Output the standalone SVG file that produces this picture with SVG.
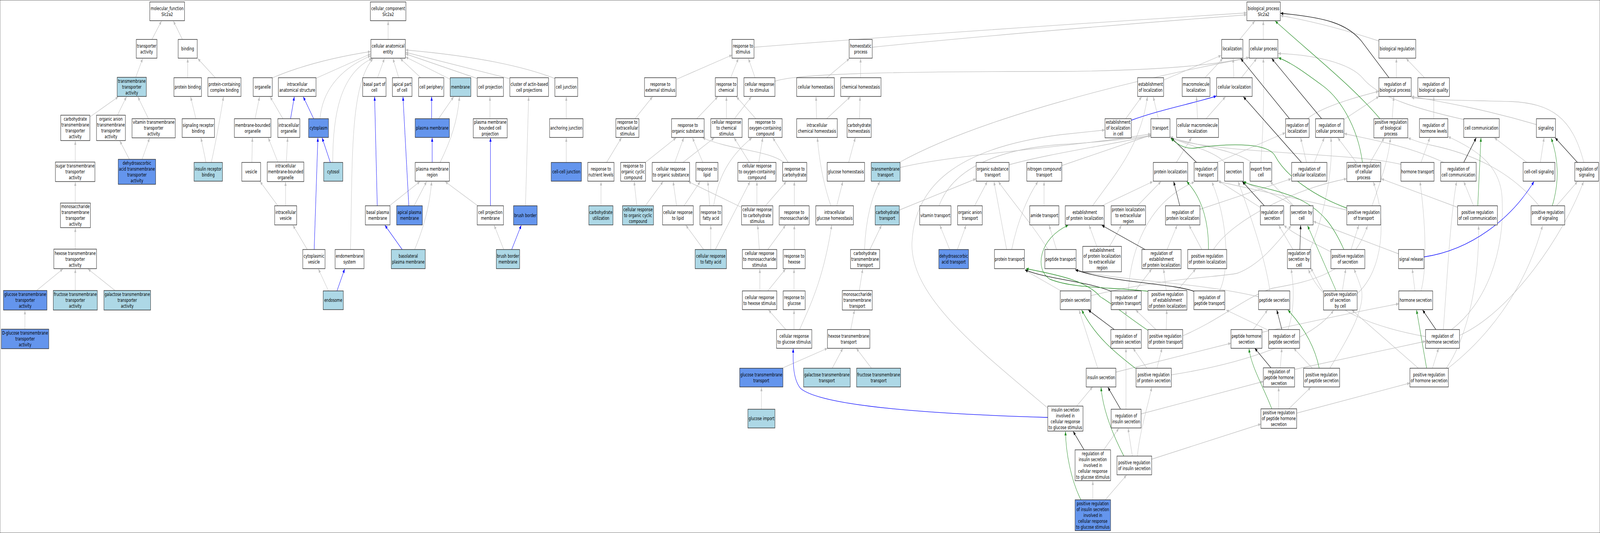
<svg xmlns="http://www.w3.org/2000/svg" width="6035" height="1365" viewBox="0 0 6035 1365" preserveAspectRatio="none" style="width:100vw;height:100vh;display:block">
<style>
rect{stroke:#2a2a2a;stroke-width:1.4}
.w{fill:#ffffff}.lb{fill:#add8e6}.db{fill:#6495ed}
text{font-family:'DejaVu Sans','Liberation Sans',sans-serif;font-size:13px;text-anchor:middle;fill:#000}
.e path{fill:none;stroke-width:1.3}
.g path{stroke:#c0c0c0;marker-end:url(#ag)}
.b path{stroke:#0000ff;marker-end:url(#ab)}
.k path{stroke:#000000;marker-end:url(#ak)}
.gr path{stroke:#228b22;marker-end:url(#agr)}
</style>
<defs>
<marker id="ag" viewBox="0 0 10 8" refX="10" refY="4" markerWidth="10" markerHeight="8" markerUnits="userSpaceOnUse" orient="auto"><path d="M0,0L10,4L0,8z" fill="#c0c0c0"/></marker>
<marker id="ab" viewBox="0 0 10 8" refX="10" refY="4" markerWidth="10" markerHeight="8" markerUnits="userSpaceOnUse" orient="auto"><path d="M0,0L10,4L0,8z" fill="#0000ff"/></marker>
<marker id="ak" viewBox="0 0 10 8" refX="10" refY="4" markerWidth="10" markerHeight="8" markerUnits="userSpaceOnUse" orient="auto"><path d="M0,0L10,4L0,8z" fill="#000000"/></marker>
<marker id="agr" viewBox="0 0 10 8" refX="10" refY="4" markerWidth="10" markerHeight="8" markerUnits="userSpaceOnUse" orient="auto"><path d="M0,0L10,4L0,8z" fill="#228b22"/></marker>
</defs>
<rect x="0" y="0" width="6035" height="1365" fill="#fff" stroke="none"/>
<g id="connectors">
<g class="e g">
<path d="M573,101L609,54"/><path d="M688,101L654,54"/><path d="M512,198L538,150"/><path d="M708,199L708,150"/><path d="M812,199L746,150"/>
<path d="M340,299L446,248"/><path d="M443,295L477,248"/><path d="M560,304L520,248"/><path d="M739,304L719,248"/><path d="M777,416L758,353"/>
<path d="M797,416C812,370 826,320 843,248"/><path d="M488,408L452,361"/><path d="M536,408L564,354"/><path d="M284,415L284,361"/><path d="M284,520L284,466"/>
<path d="M284,638L284,584"/><path d="M138,744L237,689"/><path d="M284,744L284,689"/><path d="M434,744L332,689"/><path d="M94,843L94,795"/>
<path d="M1464,101L1464,54"/><path d="M1025,200Q1180,155 1398,132"/><path d="M1190,201L1398,138"/><path d="M1207,304C1215,240 1270,180 1398,143"/>
<path d="M1255,416C1255,300 1280,190 1403,150"/><path d="M1322,639C1330,400 1320,220 1407,150"/><path d="M1424,199L1450,150"/><path d="M1504,199L1482,150"/>
<path d="M1587,199L1510,150"/><path d="M1698,203L1530,146"/><path d="M1800,201L1530,138"/><path d="M1920,201L1530,134"/><path d="M2093,201Q1900,150 1530,128"/>
<path d="M962,304L979,248"/><path d="M1067,304L1019,248"/><path d="M1048,415L1012,353"/><path d="M1080,415L1085,353"/><path d="M950,416L952,353"/>
<path d="M1048,527L981,465"/><path d="M1077,527L1077,466"/><path d="M1159,639L1105,577"/><path d="M1239,745L1201,689"/><path d="M1654,304L1711,248"/>
<path d="M1660,416C1700,360 1726,310 1733,248"/><path d="M1848,304L1848,248"/><path d="M1469,527L1584,465"/><path d="M1562,527L1609,465"/><path d="M1802,527L1679,465"/>
<path d="M1982,527L1994,248"/><path d="M1564,639C1600,580 1622,520 1628,465"/><path d="M1900,639L1864,577"/><path d="M2136,304L2136,248"/><path d="M2136,416L2136,353"/>
<path d="M2844,121Q3500,85 4702,33"/><path d="M2552,203L2761,141"/><path d="M2756,199L2785,150"/><path d="M2848,199L2823,150"/>
<path d="M2923,208C3000,190 3300,183 4000,183Q4500,180 4711,147"/><path d="M3290,121Q3800,85 4702,38"/>
<path d="M2395,304L2461,248"/><path d="M2628,304L2707,248"/><path d="M2740,304L2740,248"/><path d="M2770,304L2834,248"/><path d="M2851,304L2778,248"/>
<path d="M2288,416L2344,353"/><path d="M2434,416L2550,353"/><path d="M2545,416L2579,353"/><path d="M2576,416L2694,353"/><path d="M2651,416L2612,353"/>
<path d="M2827,416L2769,353"/><path d="M2862,416L2877,353"/><path d="M2973,416L2915,353"/><path d="M2957,416C2900,385 2760,385 2650,353"/>
<path d="M2267,527L2267,465"/><path d="M2402,527L2392,465"/><path d="M2434,527L2501,465"/><path d="M2552,527L2539,465"/><path d="M2580,527L2641,465"/>
<path d="M2677,527L2670,465"/><path d="M2692,527C2710,440 2770,390 2836,353"/><path d="M2797,531L2596,465"/><path d="M2855,527L2855,465"/><path d="M2887,527L2966,465"/>
<path d="M2996,527L2996,465"/><path d="M2654,639L2587,577"/><path d="M2681,639L2681,577"/><path d="M2698,639L2829,465"/><path d="M2864,639L2858,577"/>
<path d="M2896,639L2963,577"/><path d="M2996,639L2996,577"/><path d="M2866,745L2866,689"/><path d="M2896,745L2963,689"/><path d="M2995,745L2995,689"/>
<path d="M2964,844L2899,794"/><path d="M2995,844L2995,794"/><path d="M2950,943L3121,892"/><path d="M2872,1048L2872,992"/><path d="M3016,844C3050,790 3105,720 3137,577"/>
<path d="M3118,199L3204,150"/><path d="M3246,199L3246,150"/><path d="M3080,304L3078,248"/><path d="M3118,304L3207,248"/><path d="M3242,304L3244,248"/>
<path d="M3201,416L3226,353"/><path d="M3134,527C3105,470 3090,410 3083,353"/><path d="M3156,527L3179,465"/>
<path d="M3392,416C3700,300 4300,200 4711,148"/><path d="M3395,429C3600,395 4000,380 4341,343"/><path d="M3392,538L3681,458"/>
<path d="M3261,639C3265,560 3290,500 3319,465"/><path d="M3281,639L3325,577"/><path d="M3542,527C3600,420 3800,380 4000,370Q4200,362 4341,347"/>
<path d="M3676,527L3724,465"/><path d="M3582,639L3545,577"/><path d="M3611,639L3644,577"/><path d="M3806,422C3950,395 4150,375 4341,348"/>
<path d="M3797,639L3749,465"/><path d="M3816,639C3840,560 3880,500 3915,465"/><path d="M3953,639C3900,580 3800,500 3766,465"/><path d="M3938,527L3938,465"/>
<path d="M3985,639L3957,577"/><path d="M4005,424L4341,346"/><path d="M3241,745L3254,689"/><path d="M3209,844L3223,794"/><path d="M3139,943L3179,892"/><path d="M3287,943L3230,892"/>
<path d="M3952,1045C3700,900 3430,760 3440,620C3450,480 3600,380 4000,345L4167,333"/>
<path d="M4676,101L4733,54"/><path d="M4765,101L4765,54"/><path d="M5201,105Q5000,60 4830,40"/><path d="M4389,205L4606,142"/><path d="M4545,199L4612,150"/>
<path d="M4654,199L4651,150"/><path d="M4682,199L4740,150"/><path d="M4246,304L4306,248"/><path d="M4369,304L4350,248"/><path d="M4517,304L4513,248"/>
<path d="M4549,304L4622,248"/><path d="M4931,304Q4990,270 5200,234"/><path d="M5069,306L5201,247"/><path d="M4437,416L4494,353"/><path d="M4590,416L4848,340"/>
<path d="M4619,416C4580,385 4450,365 4414,352"/><path d="M4721,416C4650,380 4480,370 4414,350"/><path d="M4756,416Q4770,280 4765,150"/>
<path d="M4928,416L4906,353"/><path d="M4957,416L4995,353"/><path d="M4121,527C4200,450 4300,380 4328,248"/><path d="M4156,527L4348,465"/>
<path d="M4290,527L4379,465"/><path d="M4526,536L4870,458"/><path d="M4533,639L4485,577"/><path d="M4577,639C4650,560 4900,480 5079,458"/>
<path d="M4402,639L4440,577"/><path d="M4137,631L4108,577"/><path d="M4185,631L4230,577"/><path d="M4753,531L4593,462"/>
<path d="M4877,527C4800,490 4720,480 4691,463"/><path d="M4880,527L4791,465"/><path d="M4877,639L4823,577"/><path d="M5020,645C4950,620 4880,600 4843,577"/>
<path d="M5096,639L5125,577"/><path d="M5275,650L4954,567"/><path d="M5080,538C4900,510 4700,480 4596,465"/><path d="M5175,527C5210,460 5240,400 5244,354"/>
<path d="M5267,199L5267,150"/><path d="M5373,199L5304,150"/><path d="M5251,304L5257,248"/><path d="M5408,304L5408,248"/>
<path d="M5521,306C5350,280 5200,250 5140,200C5090,160 4950,140 4821,137"/><path d="M5795,319C5600,280 5450,262 5324,247"/>
<path d="M5974,416C5930,300 5850,265 5700,260C5550,257 5400,257 5324,250"/><path d="M5116,416L5046,353"/><path d="M5168,416L5221,353"/>
<path d="M5360,416L5393,353"/><path d="M5284,421C5100,390 4600,395 4415,354"/><path d="M5446,416C5300,370 5150,355 5070,342"/>
<path d="M5759,416L5637,353"/><path d="M5810,416L5824,353"/><path d="M5871,527L5950,465"/><path d="M5805,527C5700,440 5560,395 5400,372Q5350,365 5311,353"/>
<path d="M5558,527L5521,465"/><path d="M5498,531L5210,458"/>
<path d="M4002,745L3866,692"/><path d="M4747,760C4500,720 4200,720 4056,690"/><path d="M4281,745L4344,689"/><path d="M4399,744L4389,689"/><path d="M4440,744L4510,689"/>
<path d="M4256,745C4265,650 4320,520 4505,466"/><path d="M4600,745C4640,690 4630,560 4571,466"/><path d="M4115,757C4400,710 4600,710 4666,700C4750,680 4820,620 4870,578"/>
<path d="M4247,844L4247,794"/><path d="M4360,844L4284,794"/><path d="M4399,844L4401,794"/><path d="M4461,860C4600,820 4700,760 4800,738C4950,720 5100,700 5158,578"/>
<path d="M4858,844C4885,790 4880,730 4870,689"/><path d="M4727,844L4781,794"/><path d="M4760,851C4900,830 5100,800 5276,778"/><path d="M4785,846L4625,794"/>
<path d="M4829,942L4835,892"/><path d="M4883,946L5377,874"/><path d="M4950,943L4880,892"/><path d="M5016,943C5090,860 5150,790 5135,740Q5120,710 5107,689"/>
<path d="M4140,942L4070,794"/><path d="M4209,953L4643,879"/><path d="M4325,942L4274,892"/><path d="M4364,942L4383,892"/><path d="M4418,960C4700,930 4950,870 5030,795"/>
<path d="M4247,1048L4247,892"/><path d="M4304,1060L4765,977"/><path d="M4061,1040L4121,991"/><path d="M4271,1168L4255,1097"/><path d="M4290,1168C4300,1100 4330,1040 4344,992"/>
<path d="M4344,1176L4756,1086"/><path d="M4163,1152L4220,1097"/><path d="M4122,1280L4122,1232"/><path d="M4169,1280L4249,1217"/><path d="M4823,1047L4823,992"/>
<path d="M4861,1047L4944,992"/><path d="M4891,1058L5318,981"/><path d="M4790,745C4770,650 4700,520 4670,465"/>
<path d="M5337,745L5327,689"/><path d="M5360,745C5385,680 5375,560 5356,465"/><path d="M5403,943L5426,892"/><path d="M5350,943L5099,794"/>
<path d="M5444,844C5460,700 5470,560 5494,465"/><path d="M5475,844C5600,780 5680,650 5665,500C5655,420 5560,380 5462,350"/>
<path d="M5505,859C5700,800 5900,600 5973,465"/><path d="M5455,943C5520,880 5580,750 5577,578"/><path d="M5462,943C5600,870 5750,750 5818,578"/>
<path d="M4994,750L4944,686"/><path d="M5063,745L5076,689"/><path d="M5119,752C5220,690 5230,560 5180,466"/><path d="M4941,640C4990,560 5030,440 5020,353"/>
<path d="M5377,862C5200,840 5000,800 4935,690"/>
</g>
<g class="e b">
<path d="M1096,304L1110,248"/><path d="M1183,304L1144,248"/><path d="M1185,639L1199,353"/><path d="M1246,416L1215,353"/><path d="M1271,745L1300,689"/>
<path d="M1628,304L1628,248"/><path d="M1630,416L1630,353"/><path d="M1423,527L1413,248"/><path d="M1542,527L1520,248"/><path d="M1850,527L1850,353"/>
<path d="M1517,639L1452,577"/><path d="M1930,639L1966,577"/>
<path d="M4267,308C4380,280 4500,265 4588,246"/>
<path d="M3952,1069C3500,1060 3100,1040 3020,995C2995,975 2990,940 2992,893"/>
<path d="M5371,658C5550,640 5700,560 5786,465"/>
</g>
<g class="e k">
<path d="M5239,199L5135,105C5080,60 5000,45 4830,34"/><path d="M4864,304L4680,150"/><path d="M4985,304L4797,150"/><path d="M4513,416L4418,353"/>
<path d="M4909,416L4690,248"/><path d="M4450,527L4427,465"/><path d="M4319,639L4156,577"/><path d="M4769,527L4686,465"/><path d="M4903,639L4906,577"/>
<path d="M5521,416L5568,353"/><path d="M5950,416L5866,353"/><path d="M4191,746C4100,720 3950,715 3866,691"/><path d="M4503,746C4420,725 4200,725 4056,691"/>
<path d="M4203,844L4105,794"/><path d="M4835,844L4816,794"/><path d="M4794,942L4733,892"/><path d="M4226,1047L4179,992"/><path d="M4089,1152L4048,1105"/>
<path d="M5416,844L5366,794"/>
</g>
<g class="e gr">
<path d="M4558,639C4560,580 4540,510 4476,465"/><path d="M5205,304C5100,220 4950,140 4810,54"/>
<path d="M5139,416C5120,320 5050,250 4990,220C4920,185 4870,160 4822,148"/><path d="M5855,527C5885,460 5875,400 5851,354"/>
<path d="M5574,527L5586,353"/><path d="M5080,533C4950,500 4850,450 4810,400C4780,360 4600,370 4510,379C4470,383 4440,370 4416,354"/>
<path d="M5069,639C5030,580 4990,540 4900,510C4800,480 4730,480 4690,465"/><path d="M4330,846C4250,810 4200,780 4150,760C4100,720 4000,705 3870,688"/>
<path d="M4330,746C4200,735 4050,740 3960,715C3900,690 3920,610 4029,577"/><path d="M4976,943C4960,890 4920,840 4858,794"/>
<path d="M4284,944C4200,900 4130,860 4080,794"/><path d="M4239,1168C4195,1110 4160,1050 4153,992"/><path d="M4077,1280C4040,1230 4020,1160 4019,1105"/>
<path d="M4797,1047C4765,990 4720,940 4711,893"/><path d="M5381,943L5343,794"/><path d="M5040,745L4932,578"/>
</g>
</g>
<g id="n-mf"><rect class="w" x="565" y="5" width="131" height="48"/><text x="630.5" y="26">molecular_function</text><text x="630.5" y="41">Slc2a2</text></g>
<g id="n-ta"><rect class="w" x="514" y="101" width="78" height="48"/><text x="553" y="122">transporter</text><text x="553" y="137">activity</text></g>
<g id="n-bind"><rect class="w" x="672" y="101" width="72" height="48"/><text x="708" y="129.5">binding</text></g>
<g id="n-tmta"><rect class="lb" x="442" y="198" width="110" height="49"/><text x="497" y="212.5">transmembrane</text><text x="497" y="227.5">transporter</text><text x="497" y="242.5">activity</text></g>
<g id="n-pbind"><rect class="w" x="656" y="199" width="104" height="48"/><text x="708" y="227.5">protein binding</text></g>
<g id="n-pcb"><rect class="w" x="784" y="199" width="125" height="48"/><text x="846.5" y="220">protein-containing</text><text x="846.5" y="235">complex binding</text></g>
<g id="n-org"><rect class="w" x="955" y="199" width="72" height="48"/><text x="991" y="227.5">organelle</text></g>
<g id="n-cta"><rect class="w" x="229" y="295" width="110" height="65"/><text x="284" y="309.5">carbohydrate</text><text x="284" y="324.5">transmembrane</text><text x="284" y="339.5">transporter</text><text x="284" y="354.5">activity</text></g>
<g id="n-oata"><rect class="w" x="364" y="295" width="109" height="65"/><text x="418.5" y="309.5">organic anion</text><text x="418.5" y="324.5">transmembrane</text><text x="418.5" y="339.5">transporter</text><text x="418.5" y="354.5">activity</text></g>
<g id="n-vta"><rect class="w" x="498" y="304" width="163" height="49"/><text x="579.5" y="317.5">vitamin transmembrane</text><text x="579.5" y="332.5">transporter</text><text x="579.5" y="347.5">activity</text></g>
<g id="n-srb"><rect class="w" x="687" y="304" width="122" height="48"/><text x="748" y="325">signaling receptor</text><text x="748" y="340">binding</text></g>
<g id="n-mbo"><rect class="w" x="884" y="304" width="138" height="48"/><text x="953" y="325">membrane-bounded</text><text x="953" y="340">organelle</text></g>
<g id="n-sta"><rect class="w" x="209" y="415" width="149" height="50"/><text x="283.5" y="429.5">sugar transmembrane</text><text x="283.5" y="444.5">transporter</text><text x="283.5" y="459.5">activity</text></g>
<g id="n-data"><rect class="db" x="446" y="408" width="141" height="64"/><text x="516.5" y="422">dehydroascorbic</text><text x="516.5" y="437">acid transmembrane</text><text x="516.5" y="452">transporter</text><text x="516.5" y="467">activity</text></g>
<g id="n-irb"><rect class="lb" x="732" y="416" width="107" height="48"/><text x="785.5" y="437">insulin receptor</text><text x="785.5" y="452">binding</text></g>
<g id="n-ves"><rect class="w" x="912" y="416" width="71" height="48"/><text x="947.5" y="444.5">vesicle</text></g>
<g id="n-msta"><rect class="w" x="228" y="520" width="113" height="63"/><text x="284.5" y="533.5">monosaccharide</text><text x="284.5" y="548.5">transmembrane</text><text x="284.5" y="563.5">transporter</text><text x="284.5" y="578.5">activity</text></g>
<g id="n-hta"><rect class="w" x="203" y="638" width="161" height="50"/><text x="283.5" y="653">hexose transmembrane</text><text x="283.5" y="668">transporter</text><text x="283.5" y="683">activity</text></g>
<g id="n-gta"><rect class="db" x="13" y="744" width="164" height="50"/><text x="95" y="758.5">glucose transmembrane</text><text x="95" y="773.5">transporter</text><text x="95" y="788.5">activity</text></g>
<g id="n-fta"><rect class="lb" x="201" y="744" width="166" height="50"/><text x="284" y="758.5">fructose transmembrane</text><text x="284" y="773.5">transporter</text><text x="284" y="788.5">activity</text></g>
<g id="n-gala"><rect class="lb" x="392" y="744" width="176" height="50"/><text x="480" y="758.5">galactose transmembrane</text><text x="480" y="773.5">transporter</text><text x="480" y="788.5">activity</text></g>
<g id="n-dgta"><rect class="db" x="5" y="843" width="179" height="50"/><text x="94.5" y="857.5">D-glucose transmembrane</text><text x="94.5" y="872.5">transporter</text><text x="94.5" y="887.5">activity</text></g>
<g id="n-cc"><rect class="w" x="1397" y="5" width="134" height="48"/><text x="1464" y="26">cellular_component</text><text x="1464" y="41">Slc2a2</text></g>
<g id="n-cae"><rect class="w" x="1399" y="101" width="130" height="48"/><text x="1464" y="122">cellular anatomical</text><text x="1464" y="137">entity</text></g>
<g id="n-ias"><rect class="w" x="1050" y="199" width="142" height="48"/><text x="1121" y="220">intracellular</text><text x="1121" y="235">anatomical structure</text></g>
<g id="n-bpc"><rect class="w" x="1368" y="199" width="88" height="48"/><text x="1412" y="220">basal part of</text><text x="1412" y="235">cell</text></g>
<g id="n-apc"><rect class="w" x="1480" y="199" width="74" height="48"/><text x="1517" y="220">apical part</text><text x="1517" y="235">of cell</text></g>
<g id="n-cper"><rect class="w" x="1579" y="199" width="95" height="48"/><text x="1626.5" y="227.5">cell periphery</text></g>
<g id="n-mem"><rect class="lb" x="1698" y="199" width="78" height="48"/><text x="1737" y="227.5">membrane</text></g>
<g id="n-cproj"><rect class="w" x="1800" y="199" width="99" height="48"/><text x="1849.5" y="227.5">cell projection</text></g>
<g id="n-cabcp"><rect class="w" x="1923" y="199" width="146" height="48"/><text x="1996" y="220">cluster of actin-based</text><text x="1996" y="235">cell projections</text></g>
<g id="n-cj"><rect class="w" x="2093" y="199" width="86" height="48"/><text x="2136" y="227.5">cell junction</text></g>
<g id="n-io"><rect class="w" x="1048" y="304" width="83" height="48"/><text x="1089.5" y="325">intracellular</text><text x="1089.5" y="340">organelle</text></g>
<g id="n-cyto"><rect class="db" x="1164" y="304" width="75" height="48"/><text x="1201.5" y="332.5">cytoplasm</text></g>
<g id="n-pm"><rect class="db" x="1566" y="304" width="129" height="48"/><text x="1630.5" y="332.5">plasma membrane</text></g>
<g id="n-pmbcp"><rect class="w" x="1785" y="304" width="128" height="49"/><text x="1849" y="317.5">plasma membrane</text><text x="1849" y="332.5">bounded cell</text><text x="1849" y="347.5">projection</text></g>
<g id="n-aj"><rect class="w" x="2073" y="304" width="126" height="48"/><text x="2136" y="332.5">anchoring junction</text></g>
<g id="n-imbo"><rect class="w" x="1008" y="415" width="138" height="50"/><text x="1077" y="429.5">intracellular</text><text x="1077" y="444.5">membrane-bounded</text><text x="1077" y="459.5">organelle</text></g>
<g id="n-cytosol"><rect class="lb" x="1221" y="416" width="72" height="48"/><text x="1257" y="444.5">cytosol</text></g>
<g id="n-pmr"><rect class="w" x="1566" y="416" width="129" height="48"/><text x="1630.5" y="437">plasma membrane</text><text x="1630.5" y="452">region</text></g>
<g id="n-ccj"><rect class="db" x="2079" y="416" width="114" height="48"/><text x="2136" y="444.5">cell-cell junction</text></g>
<g id="n-iv"><rect class="w" x="1036" y="527" width="83" height="49"/><text x="1077.5" y="548.5">intracellular</text><text x="1077.5" y="563.5">vesicle</text></g>
<g id="n-bpm"><rect class="w" x="1378" y="527" width="93" height="49"/><text x="1424.5" y="548.5">basal plasma</text><text x="1424.5" y="563.5">membrane</text></g>
<g id="n-apm"><rect class="db" x="1496" y="527" width="97" height="49"/><text x="1544.5" y="548.5">apical plasma</text><text x="1544.5" y="563.5">membrane</text></g>
<g id="n-cpm"><rect class="w" x="1800" y="527" width="99" height="49"/><text x="1849.5" y="548.5">cell projection</text><text x="1849.5" y="563.5">membrane</text></g>
<g id="n-bb"><rect class="db" x="1937" y="527" width="89" height="49"/><text x="1981.5" y="556">brush border</text></g>
<g id="n-cv"><rect class="w" x="1142" y="639" width="84" height="49"/><text x="1184" y="660.5">cytoplasmic</text><text x="1184" y="675.5">vesicle</text></g>
<g id="n-ems"><rect class="w" x="1264" y="639" width="109" height="49"/><text x="1318.5" y="660.5">endomembrane</text><text x="1318.5" y="675.5">system</text></g>
<g id="n-blpm"><rect class="lb" x="1476" y="639" width="128" height="49"/><text x="1540" y="660.5">basolateral</text><text x="1540" y="675.5">plasma membrane</text></g>
<g id="n-bbm"><rect class="lb" x="1872" y="639" width="88" height="49"/><text x="1916" y="660.5">brush border</text><text x="1916" y="675.5">membrane</text></g>
<g id="n-endo"><rect class="lb" x="1219" y="745" width="76" height="48"/><text x="1257" y="773.5">endosome</text></g>
<g id="n-rs"><rect class="w" x="2761" y="101" width="83" height="48"/><text x="2802.5" y="122">response to</text><text x="2802.5" y="137">stimulus</text></g>
<g id="n-rext"><rect class="w" x="2431" y="199" width="119" height="48"/><text x="2490.5" y="220">response to</text><text x="2490.5" y="235">external stimulus</text></g>
<g id="n-rchem"><rect class="w" x="2698" y="199" width="83" height="48"/><text x="2739.5" y="220">response to</text><text x="2739.5" y="235">chemical</text></g>
<g id="n-crs"><rect class="w" x="2806" y="199" width="117" height="48"/><text x="2864.5" y="220">cellular response</text><text x="2864.5" y="235">to stimulus</text></g>
<g id="n-rexc"><rect class="w" x="2323" y="304" width="87" height="48"/><text x="2366.5" y="317.5">response to</text><text x="2366.5" y="332.5">extracellular</text><text x="2366.5" y="347.5">stimulus</text></g>
<g id="n-ros"><rect class="w" x="2533" y="304" width="123" height="48"/><text x="2594.5" y="325">response to</text><text x="2594.5" y="340">organic substance</text></g>
<g id="n-crcs"><rect class="w" x="2681" y="304" width="118" height="48"/><text x="2740" y="317.5">cellular response</text><text x="2740" y="332.5">to chemical</text><text x="2740" y="347.5">stimulus</text></g>
<g id="n-rocc"><rect class="w" x="2823" y="304" width="127" height="48"/><text x="2886.5" y="317.5">response to</text><text x="2886.5" y="332.5">oxygen-containing</text><text x="2886.5" y="347.5">compound</text></g>
<g id="n-rnl"><rect class="w" x="2217" y="416" width="99" height="48"/><text x="2266.5" y="437">response to</text><text x="2266.5" y="452">nutrient levels</text></g>
<g id="n-rocyc"><rect class="w" x="2341" y="416" width="94" height="48"/><text x="2388" y="429.5">response to</text><text x="2388" y="444.5">organic cyclic</text><text x="2388" y="459.5">compound</text></g>
<g id="n-cros"><rect class="w" x="2460" y="416" width="141" height="48"/><text x="2530.5" y="437">cellular response</text><text x="2530.5" y="452">to organic substance</text></g>
<g id="n-rlip"><rect class="w" x="2625" y="416" width="83" height="48"/><text x="2666.5" y="437">response to</text><text x="2666.5" y="452">lipid</text></g>
<g id="n-croc"><rect class="w" x="2783" y="416" width="144" height="48"/><text x="2855" y="429.5">cellular response</text><text x="2855" y="444.5">to oxygen-containing</text><text x="2855" y="459.5">compound</text></g>
<g id="n-rcarb"><rect class="w" x="2952" y="416" width="91" height="48"/><text x="2997.5" y="437">response to</text><text x="2997.5" y="452">carbohydrate</text></g>
<g id="n-cu"><rect class="lb" x="2221" y="527" width="91" height="49"/><text x="2266.5" y="548.5">carbohydrate</text><text x="2266.5" y="563.5">utilization</text></g>
<g id="n-crocc"><rect class="lb" x="2348" y="527" width="117" height="49"/><text x="2406.5" y="541">cellular response</text><text x="2406.5" y="556">to organic cyclic</text><text x="2406.5" y="571">compound</text></g>
<g id="n-crl"><rect class="w" x="2499" y="527" width="116" height="49"/><text x="2557" y="548.5">cellular response</text><text x="2557" y="563.5">to lipid</text></g>
<g id="n-rfa"><rect class="w" x="2640" y="527" width="83" height="49"/><text x="2681.5" y="548.5">response to</text><text x="2681.5" y="563.5">fatty acid</text></g>
<g id="n-crcarb"><rect class="w" x="2797" y="527" width="118" height="49"/><text x="2856" y="541">cellular response</text><text x="2856" y="556">to carbohydrate</text><text x="2856" y="571">stimulus</text></g>
<g id="n-rmono"><rect class="w" x="2939" y="527" width="113" height="49"/><text x="2995.5" y="548.5">response to</text><text x="2995.5" y="563.5">monosaccharide</text></g>
<g id="n-crfa"><rect class="lb" x="2622" y="639" width="118" height="49"/><text x="2681" y="660.5">cellular response</text><text x="2681" y="675.5">to fatty acid</text></g>
<g id="n-crms"><rect class="w" x="2800" y="639" width="130" height="49"/><text x="2865" y="653">cellular response</text><text x="2865" y="668">to monosaccharide</text><text x="2865" y="683">stimulus</text></g>
<g id="n-rhex"><rect class="w" x="2954" y="639" width="83" height="49"/><text x="2995.5" y="660.5">response to</text><text x="2995.5" y="675.5">hexose</text></g>
<g id="n-crhs"><rect class="w" x="2800" y="745" width="130" height="48"/><text x="2865" y="766">cellular response</text><text x="2865" y="781">to hexose stimulus</text></g>
<g id="n-rglu"><rect class="w" x="2954" y="745" width="83" height="48"/><text x="2995.5" y="766">response to</text><text x="2995.5" y="781">glucose</text></g>
<g id="n-crgs"><rect class="w" x="2929" y="844" width="133" height="48"/><text x="2995.5" y="865">cellular response</text><text x="2995.5" y="880">to glucose stimulus</text></g>
<g id="n-gtt"><rect class="db" x="2790" y="943" width="163" height="48"/><text x="2871.5" y="964">glucose transmembrane</text><text x="2871.5" y="979">transport</text></g>
<g id="n-gimp"><rect class="lb" x="2821" y="1048" width="102" height="48"/><text x="2872" y="1076.5">glucose import</text></g>
<g id="n-hp"><rect class="w" x="3203" y="101" width="87" height="48"/><text x="3246.5" y="122">homeostatic</text><text x="3246.5" y="137">process</text></g>
<g id="n-ch"><rect class="w" x="3005" y="199" width="142" height="48"/><text x="3076" y="227.5">cellular homeostasis</text></g>
<g id="n-chem"><rect class="w" x="3171" y="199" width="152" height="48"/><text x="3247" y="227.5">chemical homeostasis</text></g>
<g id="n-ich"><rect class="w" x="3005" y="304" width="153" height="48"/><text x="3081.5" y="325">intracellular</text><text x="3081.5" y="340">chemical homeostasis</text></g>
<g id="n-carbh"><rect class="w" x="3195" y="304" width="91" height="48"/><text x="3240.5" y="325">carbohydrate</text><text x="3240.5" y="340">homeostasis</text></g>
<g id="n-gh"><rect class="w" x="3120" y="416" width="141" height="48"/><text x="3190.5" y="444.5">glucose homeostasis</text></g>
<g id="n-tmt"><rect class="lb" x="3286" y="416" width="109" height="48"/><text x="3340.5" y="437">transmembrane</text><text x="3340.5" y="452">transport</text></g>
<g id="n-ost"><rect class="w" x="3682" y="416" width="124" height="48"/><text x="3744" y="437">organic substance</text><text x="3744" y="452">transport</text></g>
<g id="n-nct"><rect class="w" x="3873" y="416" width="132" height="48"/><text x="3939" y="437">nitrogen compound</text><text x="3939" y="452">transport</text></g>
<g id="n-igh"><rect class="w" x="3077" y="527" width="142" height="49"/><text x="3148" y="548.5">intracellular</text><text x="3148" y="563.5">glucose homeostasis</text></g>
<g id="n-ct"><rect class="lb" x="3301" y="527" width="91" height="49"/><text x="3346.5" y="548.5">carbohydrate</text><text x="3346.5" y="563.5">transport</text></g>
<g id="n-vt"><rect class="w" x="3469" y="527" width="118" height="49"/><text x="3528" y="556">vitamin transport</text></g>
<g id="n-oat"><rect class="w" x="3612" y="527" width="93" height="49"/><text x="3658.5" y="548.5">organic anion</text><text x="3658.5" y="563.5">transport</text></g>
<g id="n-amt"><rect class="w" x="3884" y="527" width="110" height="49"/><text x="3939" y="556">amide transport</text></g>
<g id="n-ctt"><rect class="w" x="3208" y="639" width="110" height="49"/><text x="3263" y="653">carbohydrate</text><text x="3263" y="668">transmembrane</text><text x="3263" y="683">transport</text></g>
<g id="n-dat"><rect class="db" x="3541" y="639" width="112" height="49"/><text x="3597" y="660.5">dehydroascorbic</text><text x="3597" y="675.5">acid transport</text></g>
<g id="n-pt"><rect class="w" x="3751" y="639" width="113" height="49"/><text x="3807.5" y="668">protein transport</text></g>
<g id="n-pept"><rect class="w" x="3941" y="639" width="118" height="49"/><text x="4000" y="668">peptide transport</text></g>
<g id="n-mtt"><rect class="w" x="3177" y="744" width="113" height="50"/><text x="3233.5" y="758.5">monosaccharide</text><text x="3233.5" y="773.5">transmembrane</text><text x="3233.5" y="788.5">transport</text></g>
<g id="n-htt"><rect class="w" x="3121" y="844" width="160" height="48"/><text x="3201" y="865">hexose transmembrane</text><text x="3201" y="880">transport</text></g>
<g id="n-galt"><rect class="lb" x="3031" y="943" width="176" height="48"/><text x="3119" y="964">galactose transmembrane</text><text x="3119" y="979">transport</text></g>
<g id="n-frut"><rect class="lb" x="3231" y="943" width="166" height="48"/><text x="3314" y="964">fructose transmembrane</text><text x="3314" y="979">transport</text></g>
<g id="n-isii"><rect class="w" x="3952" y="1040" width="133" height="64"/><text x="4018.5" y="1054">insulin secretion</text><text x="4018.5" y="1069">involved in</text><text x="4018.5" y="1084">cellular response</text><text x="4018.5" y="1099">to glucose stimulus</text></g>
<g id="n-bp"><rect class="w" x="4703" y="5" width="126" height="48"/><text x="4766" y="26">biological_process</text><text x="4766" y="41">Slc2a2</text></g>
<g id="n-loc"><rect class="w" x="4608" y="101" width="80" height="48"/><text x="4648" y="129.5">localization</text></g>
<g id="n-cp"><rect class="w" x="4712" y="101" width="108" height="48"/><text x="4766" y="129.5">cellular process</text></g>
<g id="n-breg"><rect class="w" x="5201" y="101" width="139" height="48"/><text x="5270.5" y="129.5">biological regulation</text></g>
<g id="n-eol"><rect class="w" x="4291" y="199" width="98" height="48"/><text x="4340" y="220">establishment</text><text x="4340" y="235">of localization</text></g>
<g id="n-ml"><rect class="w" x="4459" y="199" width="105" height="48"/><text x="4511.5" y="220">macromolecule</text><text x="4511.5" y="235">localization</text></g>
<g id="n-cl"><rect class="w" x="4589" y="199" width="134" height="48"/><text x="4656" y="227.5">cellular localization</text></g>
<g id="n-rbp"><rect class="w" x="5201" y="199" width="122" height="48"/><text x="5262" y="220">regulation of</text><text x="5262" y="235">biological process</text></g>
<g id="n-rbq"><rect class="w" x="5348" y="199" width="119" height="48"/><text x="5407.5" y="220">regulation of</text><text x="5407.5" y="235">biological quality</text></g>
<g id="n-eolic"><rect class="w" x="4168" y="304" width="99" height="49"/><text x="4217.5" y="317.5">establishment</text><text x="4217.5" y="332.5">of localization</text><text x="4217.5" y="347.5">in cell</text></g>
<g id="n-tr"><rect class="w" x="4341" y="304" width="72" height="48"/><text x="4377" y="332.5">transport</text></g>
<g id="n-cml"><rect class="w" x="4438" y="304" width="158" height="48"/><text x="4517" y="325">cellular macromolecule</text><text x="4517" y="340">localization</text></g>
<g id="n-rol"><rect class="w" x="4849" y="304" width="89" height="48"/><text x="4893.5" y="325">regulation of</text><text x="4893.5" y="340">localization</text></g>
<g id="n-rcp"><rect class="w" x="4962" y="304" width="107" height="48"/><text x="5015.5" y="325">regulation of</text><text x="5015.5" y="340">cellular process</text></g>
<g id="n-prbp"><rect class="w" x="5182" y="304" width="128" height="49"/><text x="5246" y="317.5">positive regulation</text><text x="5246" y="332.5">of biological</text><text x="5246" y="347.5">process</text></g>
<g id="n-rhl"><rect class="w" x="5354" y="304" width="107" height="48"/><text x="5407.5" y="325">regulation of</text><text x="5407.5" y="340">hormone levels</text></g>
<g id="n-ccom"><rect class="w" x="5521" y="304" width="134" height="48"/><text x="5588" y="332.5">cell communication</text></g>
<g id="n-sig"><rect class="w" x="5795" y="304" width="72" height="48"/><text x="5831" y="332.5">signaling</text></g>
<g id="n-pl"><rect class="w" x="4350" y="416" width="130" height="48"/><text x="4415" y="444.5">protein localization</text></g>
<g id="n-rtr"><rect class="w" x="4504" y="416" width="89" height="48"/><text x="4548.5" y="437">regulation of</text><text x="4548.5" y="452">transport</text></g>
<g id="n-sec"><rect class="w" x="4619" y="416" width="71" height="48"/><text x="4654.5" y="444.5">secretion</text></g>
<g id="n-efc"><rect class="w" x="4715" y="416" width="82" height="48"/><text x="4756" y="437">export from</text><text x="4756" y="452">cell</text></g>
<g id="n-rcl"><rect class="w" x="4872" y="416" width="133" height="48"/><text x="4938.5" y="437">regulation of</text><text x="4938.5" y="452">cellular localization</text></g>
<g id="n-prcp"><rect class="w" x="5080" y="416" width="128" height="49"/><text x="5144" y="429.5">positive regulation</text><text x="5144" y="444.5">of cellular</text><text x="5144" y="459.5">process</text></g>
<g id="n-ht"><rect class="w" x="5284" y="416" width="125" height="48"/><text x="5346.5" y="444.5">hormone transport</text></g>
<g id="n-rcc"><rect class="w" x="5434" y="416" width="134" height="48"/><text x="5501" y="437">regulation of</text><text x="5501" y="452">cell communication</text></g>
<g id="n-ccs"><rect class="w" x="5745" y="416" width="120" height="48"/><text x="5805" y="444.5">cell-cell signaling</text></g>
<g id="n-rsig"><rect class="w" x="5940" y="416" width="90" height="48"/><text x="5985" y="437">regulation of</text><text x="5985" y="452">signaling</text></g>
<g id="n-eopl"><rect class="w" x="4018" y="527" width="147" height="49"/><text x="4091.5" y="548.5">establishment</text><text x="4091.5" y="563.5">of protein localization</text></g>
<g id="n-plter"><rect class="w" x="4191" y="527" width="130" height="49"/><text x="4256" y="541">protein localization</text><text x="4256" y="556">to extracellular</text><text x="4256" y="571">region</text></g>
<g id="n-rpl"><rect class="w" x="4396" y="527" width="130" height="49"/><text x="4461" y="548.5">regulation of</text><text x="4461" y="563.5">protein localization</text></g>
<g id="n-rsec"><rect class="w" x="4754" y="527" width="88" height="49"/><text x="4798" y="548.5">regulation of</text><text x="4798" y="563.5">secretion</text></g>
<g id="n-sbc"><rect class="w" x="4867" y="527" width="86" height="49"/><text x="4910" y="548.5">secretion by</text><text x="4910" y="563.5">cell</text></g>
<g id="n-prt"><rect class="w" x="5080" y="527" width="128" height="49"/><text x="5144" y="548.5">positive regulation</text><text x="5144" y="563.5">of transport</text></g>
<g id="n-prcc"><rect class="w" x="5498" y="527" width="150" height="49"/><text x="5573" y="548.5">positive regulation</text><text x="5573" y="563.5">of cell communication</text></g>
<g id="n-prsig"><rect class="w" x="5775" y="527" width="127" height="49"/><text x="5838.5" y="548.5">positive regulation</text><text x="5838.5" y="563.5">of signaling</text></g>
<g id="n-eoplter"><rect class="w" x="4084" y="631" width="146" height="65"/><text x="4157" y="645.5">establishment</text><text x="4157" y="660.5">of protein localization</text><text x="4157" y="675.5">to extracellular</text><text x="4157" y="690.5">region</text></g>
<g id="n-reopl"><rect class="w" x="4307" y="639" width="148" height="49"/><text x="4381" y="653">regulation of</text><text x="4381" y="668">establishment</text><text x="4381" y="683">of protein localization</text></g>
<g id="n-prpl"><rect class="w" x="4480" y="639" width="147" height="49"/><text x="4553.5" y="660.5">positive regulation</text><text x="4553.5" y="675.5">of protein localization</text></g>
<g id="n-rsbc"><rect class="w" x="4856" y="639" width="88" height="49"/><text x="4900" y="653">regulation of</text><text x="4900" y="668">secretion by</text><text x="4900" y="683">cell</text></g>
<g id="n-prsec"><rect class="w" x="5020" y="639" width="128" height="49"/><text x="5084" y="660.5">positive regulation</text><text x="5084" y="675.5">of secretion</text></g>
<g id="n-sr"><rect class="w" x="5275" y="639" width="96" height="49"/><text x="5323" y="668">signal release</text></g>
<g id="n-psec"><rect class="w" x="3999" y="745" width="116" height="48"/><text x="4057" y="773.5">protein secretion</text></g>
<g id="n-rpt"><rect class="w" x="4191" y="745" width="114" height="48"/><text x="4248" y="766">regulation of</text><text x="4248" y="781">protein transport</text></g>
<g id="n-preopl"><rect class="w" x="4330" y="744" width="147" height="50"/><text x="4403.5" y="758.5">positive regulation</text><text x="4403.5" y="773.5">of establishment</text><text x="4403.5" y="788.5">of protein localization</text></g>
<g id="n-rpept"><rect class="w" x="4503" y="745" width="117" height="48"/><text x="4561.5" y="766">regulation of</text><text x="4561.5" y="781">peptide transport</text></g>
<g id="n-peps"><rect class="w" x="4747" y="745" width="118" height="48"/><text x="4806" y="773.5">peptide secretion</text></g>
<g id="n-prsbc"><rect class="w" x="4992" y="745" width="127" height="49"/><text x="5055.5" y="758.5">positive regulation</text><text x="5055.5" y="773.5">of secretion</text><text x="5055.5" y="788.5">by cell</text></g>
<g id="n-hs"><rect class="w" x="5276" y="745" width="128" height="48"/><text x="5340" y="773.5">hormone secretion</text></g>
<g id="n-rps"><rect class="w" x="4190" y="844" width="115" height="48"/><text x="4247.5" y="865">regulation of</text><text x="4247.5" y="880">protein secretion</text></g>
<g id="n-prpt"><rect class="w" x="4330" y="844" width="131" height="48"/><text x="4395.5" y="865">positive regulation</text><text x="4395.5" y="880">of protein transport</text></g>
<g id="n-phs"><rect class="w" x="4643" y="844" width="117" height="48"/><text x="4701.5" y="865">peptide hormone</text><text x="4701.5" y="880">secretion</text></g>
<g id="n-rpeps"><rect class="w" x="4785" y="844" width="117" height="48"/><text x="4843.5" y="865">regulation of</text><text x="4843.5" y="880">peptide secretion</text></g>
<g id="n-rhs"><rect class="w" x="5377" y="844" width="128" height="48"/><text x="5441" y="865">regulation of</text><text x="5441" y="880">hormone secretion</text></g>
<g id="n-ins"><rect class="w" x="4097" y="943" width="112" height="48"/><text x="4153" y="971.5">insulin secretion</text></g>
<g id="n-prps"><rect class="w" x="4285" y="943" width="133" height="48"/><text x="4351.5" y="964">positive regulation</text><text x="4351.5" y="979">of protein secretion</text></g>
<g id="n-rphs"><rect class="w" x="4765" y="942" width="118" height="49"/><text x="4824" y="956.5">regulation of</text><text x="4824" y="971.5">peptide hormone</text><text x="4824" y="986.5">secretion</text></g>
<g id="n-prpeps"><rect class="w" x="4917" y="943" width="136" height="48"/><text x="4985" y="964">positive regulation</text><text x="4985" y="979">of peptide secretion</text></g>
<g id="n-prhs"><rect class="w" x="5318" y="943" width="145" height="48"/><text x="5390.5" y="964">positive regulation</text><text x="5390.5" y="979">of hormone secretion</text></g>
<g id="n-ris"><rect class="w" x="4191" y="1048" width="113" height="48"/><text x="4247.5" y="1069">regulation of</text><text x="4247.5" y="1084">insulin secretion</text></g>
<g id="n-prphs"><rect class="w" x="4756" y="1047" width="135" height="50"/><text x="4823.5" y="1061.5">positive regulation</text><text x="4823.5" y="1076.5">of peptide hormone</text><text x="4823.5" y="1091.5">secretion</text></g>
<g id="n-risii"><rect class="w" x="4055" y="1152" width="134" height="79"/><text x="4122" y="1166">regulation of</text><text x="4122" y="1181">insulin secretion</text><text x="4122" y="1196">involved in</text><text x="4122" y="1211">cellular response</text><text x="4122" y="1226">to glucose stimulus</text></g>
<g id="n-pris"><rect class="w" x="4213" y="1168" width="131" height="48"/><text x="4278.5" y="1189">positive regulation</text><text x="4278.5" y="1204">of insulin secretion</text></g>
<g id="n-prisii"><rect class="db" x="4055" y="1280" width="134" height="79"/><text x="4122" y="1294">positive regulation</text><text x="4122" y="1309">of insulin secretion</text><text x="4122" y="1324">involved in</text><text x="4122" y="1339">cellular response</text><text x="4122" y="1354">to glucose stimulus</text></g>
</svg>
